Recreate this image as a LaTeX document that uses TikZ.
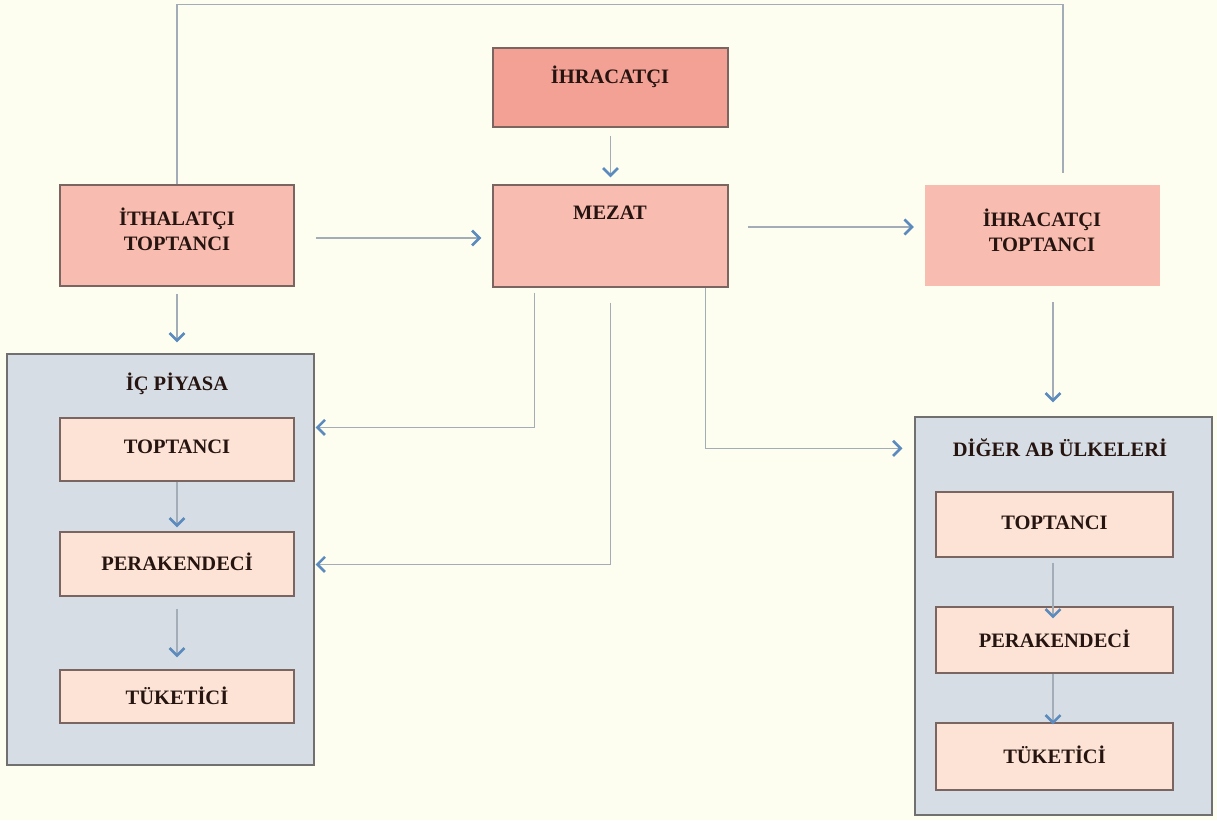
\documentclass[tikz,border=0pt]{standalone}
\usepackage{fontspec}
\setmainfont{Liberation Serif}
\usetikzlibrary{arrows.meta,calc}

\definecolor{bgc}{HTML}{FEFEF0}
\definecolor{exporter}{HTML}{F4A195}
\definecolor{salmon}{HTML}{F8BDB0}
\definecolor{peach}{HTML}{FCE3D5}
\definecolor{market}{HTML}{D7DDE4}
\definecolor{boxline}{HTML}{7A6560}
\definecolor{marketline}{HTML}{707070}
\definecolor{linkc}{HTML}{A3ADB7}
\definecolor{tipc}{HTML}{5B8BBE}
\definecolor{txt}{HTML}{261410}

\tikzset{
  box/.style={draw=boxline, line width=1.2pt, inner sep=0pt},
  marketbox/.style={draw=marketline, fill=market, line width=1.2pt, inner sep=0pt},
  lbl/.style={text=txt, font=\bfseries\fontsize{20.5}{25}\selectfont, align=center, inner sep=0pt},
  arr/.style={draw=linkc, line width=1.3pt,
    -{Straight Barb[length=7.5pt,width=15pt,line width=2.6pt,color=tipc]}},
  link/.style={draw=linkc, line width=1.3pt}
}

\begin{document}
\begin{tikzpicture}[x=1pt,y=-1pt]
  % page
  \fill[bgc] (0,0) rectangle (1217,820);
  \useasboundingbox (0,0) rectangle (1217,820);

  % top row
  \node[box, fill=exporter, minimum width=235pt, minimum height=79pt] (ihr) at (610.5,87.5) {};
  \node[lbl] (ihr-t) at (610,77) {İHRACATÇI};

  \node[box, fill=salmon, minimum width=235pt, minimum height=102pt] (mezat) at (610.5,236) {};
  \node[lbl] (mezat-t) at (610,213) {MEZAT};

  \node[box, fill=salmon, minimum width=234pt, minimum height=101pt] (ith) at (177,235.5) {};
  \node[lbl] (ith-t) at (177,229) {İTHALATÇI\\TOPTANCI};

  \node[fill=salmon, inner sep=0pt, minimum width=235pt, minimum height=101pt] (ihrtop) at (1042.5,235.5) {};
  \node[lbl] (ihrtop-t) at (1042,230) {İHRACATÇI\\TOPTANCI};

  % domestic market
  \node[marketbox, minimum width=307pt, minimum height=411pt] (icp) at (160.5,559.5) {};
  \node[lbl] (icp-t) at (177,384) {İÇ PİYASA};
  \node[box, fill=peach, minimum width=234pt, minimum height=63pt] (ic1) at (177,449.5) {};
  \node[lbl] (ic1-t) at (177,447) {TOPTANCI};
  \node[box, fill=peach, minimum width=234pt, minimum height=64pt] (ic2) at (177,564) {};
  \node[lbl] (ic2-t) at (177,562) {PERAKENDECİ};
  \node[box, fill=peach, minimum width=234pt, minimum height=53pt] (ic3) at (177,696.5) {};
  \node[lbl] (ic3-t) at (177,696) {TÜKETİCİ};

  % other EU countries
  \node[marketbox, minimum width=297pt, minimum height=398pt] (ab) at (1063.5,616) {};
  \node[lbl] (ab-t) at (1060,448) {DİĞER AB ÜLKELERİ};
  \node[box, fill=peach, minimum width=237pt, minimum height=65pt] (ab1) at (1054.5,524.5) {};
  \node[lbl] (ab1-t) at (1054.5,523) {TOPTANCI};
  \node[box, fill=peach, minimum width=237pt, minimum height=66pt] (ab2) at (1054.5,640) {};
  \node[lbl] (ab2-t) at (1054.5,639) {PERAKENDECİ};
  \node[box, fill=peach, minimum width=237pt, minimum height=67pt] (ab3) at (1054.5,756.5) {};
  \node[lbl] (ab3-t) at (1054.5,755) {TÜKETİCİ};

  % loop over the top
  \draw[link] (ith.north) -- ++(0,-180) -| ($(ihrtop.north)+(20.5,-12)$);

  % main flows
  \draw[arr] ($(ihr.south)+(0,8)$) -- ($(mezat.north)+(0,-7)$);
  \draw[arr] ($(ith.east)+(21,2.5)$) -- ($(mezat.west)+(-11,2)$);
  \draw[arr] ($(mezat.east)+(19,-9)$) -- ($(ihrtop.west)+(-11,-8.5)$);
  \draw[arr] ($(ith.south)+(0,7)$) -- ($(ith.south |- icp.north)+(0,-11)$);
  \draw[arr] ($(ihrtop.south)+(10.5,16)$) -- ($(ab.north)+(-10.5,-14)$);

  % auction outlets
  \draw[arr] ($(mezat.south west)+(42,5)$) |- ($(icp.north east)+(1,74)$);
  \draw[arr] ($(mezat.south)+(0,15)$) |- ($(icp.north east)+(1,211)$);
  \draw[arr] ($(mezat.south east)+(-23,0)$) |- ($(ab.north west)+(-12,32)$);

  % inside the markets
  \draw[arr] (ic1.south) -- ($(ic2.north)+(0,-4)$);
  \draw[arr] ($(ic2.south)+(0,12)$) -- ($(ic3.north)+(0,-12)$);
  \draw[arr] ($(ab1.south)+(-1.5,5)$) -- ($(ab2.north)+(-1.5,12)$);
  \draw[arr] ($(ab2.south)+(-1.5,0)$) -- ($(ab3.north)+(-1.5,2)$);
\end{tikzpicture}
\end{document}
